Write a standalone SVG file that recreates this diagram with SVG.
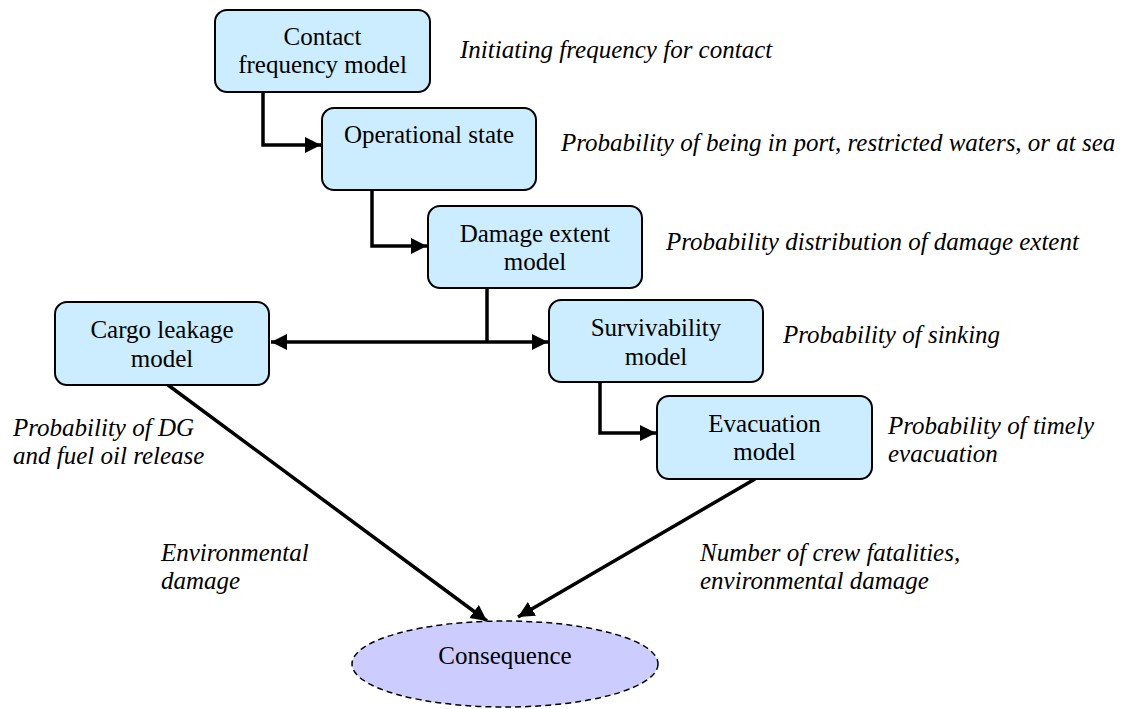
<svg xmlns="http://www.w3.org/2000/svg" width="1130" height="709" viewBox="0 0 1130 709">
  <style>
    .box { fill: #CCECFF; stroke: #000; stroke-width: 2; }
    .lbl { font-family: "Liberation Serif", serif; font-size: 25px; fill: #000; text-anchor: middle; }
    .note { font-family: "Liberation Serif", serif; font-size: 25px; font-style: italic; fill: #000; }
    .wire { fill: none; stroke: #000; stroke-width: 3.5; }
  </style>
  <defs>
    <marker id="arrow" viewBox="0 0 10 10" refX="10" refY="5" markerWidth="4.6" markerHeight="4.8" orient="auto-start-reverse" markerUnits="strokeWidth">
      <path d="M0,0 L10,5 L0,10 Z" fill="#000"/>
    </marker>
  </defs>
  <rect width="1130" height="709" fill="#fff"/>

  <!-- connectors -->
  <g id="connectors">
    <path class="wire" d="M263,92 V145 H321" marker-end="url(#arrow)"/>
    <path class="wire" d="M372,190 V246 H427" marker-end="url(#arrow)"/>
    <path class="wire" d="M487,288 V342"/>
    <path class="wire" d="M271,342 H548" marker-start="url(#arrow)" marker-end="url(#arrow)"/>
    <path class="wire" d="M600,382 V433 H656" marker-end="url(#arrow)"/>
    <path class="wire" d="M168,385 L487,621" marker-end="url(#arrow)"/>
    <path class="wire" d="M755,479 L518,617" marker-end="url(#arrow)"/>
  </g>

  <!-- model nodes -->
  <g id="contact-frequency">
    <rect class="box" x="215" y="10" width="215" height="82" rx="12"/>
    <text class="lbl" x="322.5" y="45">Contact</text>
    <text class="lbl" x="322.5" y="73">frequency model</text>
  </g>
  <g id="operational-state">
    <rect class="box" x="322" y="108" width="214" height="82" rx="12"/>
    <text class="lbl" x="429" y="143">Operational state</text>
  </g>
  <g id="damage-extent">
    <rect class="box" x="428" y="206" width="214" height="82" rx="12"/>
    <text class="lbl" x="535" y="242">Damage extent</text>
    <text class="lbl" x="535" y="270">model</text>
  </g>
  <g id="cargo-leakage">
    <rect class="box" x="55" y="302" width="214" height="83" rx="12"/>
    <text class="lbl" x="162" y="338">Cargo leakage</text>
    <text class="lbl" x="162" y="367">model</text>
  </g>
  <g id="survivability">
    <rect class="box" x="549" y="300" width="214" height="82" rx="12"/>
    <text class="lbl" x="656" y="336">Survivability</text>
    <text class="lbl" x="656" y="365">model</text>
  </g>
  <g id="evacuation">
    <rect class="box" x="657" y="396" width="215" height="83" rx="12"/>
    <text class="lbl" x="764.5" y="432">Evacuation</text>
    <text class="lbl" x="764.5" y="460">model</text>
  </g>
  <g id="consequence">
    <ellipse cx="505" cy="664" rx="153" ry="43" fill="#CCCCFF" stroke="#000" stroke-width="1.5" stroke-dasharray="6,4"/>
    <text class="lbl" x="505" y="664">Consequence</text>
  </g>

  <!-- annotations -->
  <g id="annotations">
    <text class="note" x="460" y="58">Initiating frequency for contact</text>
    <text class="note" x="561" y="151">Probability of being in port, restricted waters, or at sea</text>
    <text class="note" x="666" y="250">Probability distribution of damage extent</text>
    <text class="note" x="783" y="343">Probability of sinking</text>
    <text class="note" x="888" y="434">Probability of timely</text>
    <text class="note" x="888" y="462">evacuation</text>
    <text class="note" x="13" y="436">Probability of DG</text>
    <text class="note" x="13" y="464">and fuel oil release</text>
    <text class="note" x="161" y="561">Environmental</text>
    <text class="note" x="161" y="589">damage</text>
    <text class="note" x="700" y="561">Number of crew fatalities,</text>
    <text class="note" x="700" y="589">environmental damage</text>
  </g>
</svg>
